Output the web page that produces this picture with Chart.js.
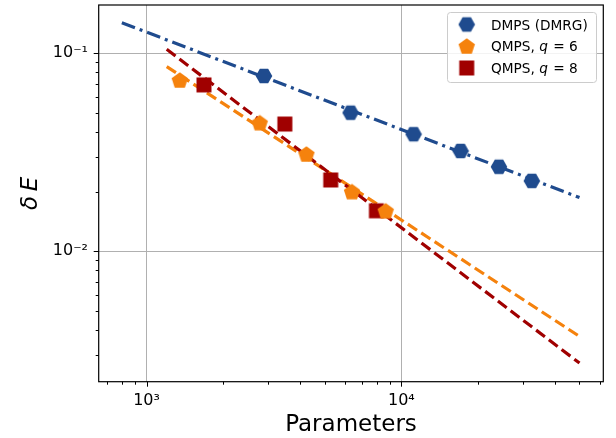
<!DOCTYPE html>
<html><head><meta charset="utf-8">
<script src="https://cdn.jsdelivr.net/npm/chart.js@4.4.0/dist/chart.umd.min.js"></script>
<style>html,body{margin:0;padding:0;background:#fff;}#wrap{width:616px;height:438px;position:relative;}</style>
</head><body><div id="wrap"><canvas id="c" width="616" height="438"></canvas></div>
<script>
// ---- data ----
const dmpsX = [2890, 6320, 11170, 17080, 24150, 32500];
const dmpsY = [0.0768, 0.0501, 0.0390, 0.0321, 0.0267, 0.02265];
const q6X = [1350, 2780, 4240, 6400, 8680];
const q6Y = [0.0733, 0.0446, 0.0310, 0.0200, 0.0160];
const q8X = [1680, 3490, 5280, 7980];
const q8Y = [0.0692, 0.0439, 0.0229, 0.0160];
const dmpsFitX = [800, 50000];
const dmpsFitY = [0.1427, 0.01866];
const q6FitX = [1200, 50000];
const q6FitY = [0.0856, 0.00371];
const q8FitX = [1200, 50000];
const q8FitY = [0.1047, 0.00272];
const seriesNames = ['DMPS (DMRG)', 'QMPS, ', 'QMPS, '];
const seriesQ = ['', '6', '8'];
const xMajorTicks = [1000, 10000];
const xTickLabels = ['10\u00B3', '10\u2074'];
const xMinorTicks = [700, 800, 900, 2000, 3000, 4000, 5000, 6000, 7000, 8000, 9000, 20000, 30000, 40000, 50000, 60000];
const yMajorTicks = [0.01, 0.1];
const yTickLabels = ['10\u207B\u00B2', '10\u207B\u00B9'];
const yMinorTicks = [0.003, 0.004, 0.005, 0.006, 0.007, 0.008, 0.009, 0.02, 0.03, 0.04, 0.05, 0.06, 0.07, 0.08, 0.09];
const xTitle = 'Parameters';
const yTitle = '\u03B4\u2009E';

const BLUE = '#1f4b8e', ORANGE = '#f5820d', RED = '#a00000';

function pts(xs, ys) { return xs.map((x, i) => ({x: x, y: ys[i]})); }
function near(a, b) { return Math.abs(a - b) / b < 1e-6; }
function majorIdx(list, v) { return list.findIndex(m => near(v, m)); }

function makeMarker(shape, color) {
  const s = 18, c = document.createElement('canvas');
  c.width = s; c.height = s;
  const g = c.getContext('2d');
  g.fillStyle = color; g.strokeStyle = color; g.lineWidth = 1;
  g.beginPath();
  const cx = s / 2, cy = s / 2;
  if (shape === 'hex') {
    const r = 8.3;
    for (let i = 0; i < 6; i++) { const a = i * Math.PI / 3; g.lineTo(cx + r * Math.cos(a), cy + r * Math.sin(a)); }
  } else if (shape === 'pent') {
    const r = 8.6;
    for (let i = 0; i < 5; i++) { const a = -Math.PI / 2 + i * 2 * Math.PI / 5; g.lineTo(cx + r * Math.cos(a), cy + 0.8 + r * Math.sin(a)); }
  } else {
    g.rect(cx - 7.5, cy - 7.5, 15, 15);
  }
  g.closePath(); g.fill();
  return c;
}
const mHex = makeMarker('hex', BLUE), mPent = makeMarker('pent', ORANGE), mSq = makeMarker('sq', RED);

const frameTicks = {
  id: 'frameTicks',
  afterDatasetsDraw(chart) {
    const ctx = chart.ctx, a = chart.chartArea, xs = chart.scales.x, ys = chart.scales.y;
    ctx.save();
    ctx.strokeStyle = '#000'; ctx.lineWidth = 1;
    xMinorTicks.concat(xMajorTicks).forEach(v => {
      const p = Math.round(xs.getPixelForValue(v)) + 0.5;
      const L = majorIdx(xMajorTicks, v) >= 0 ? 5 : 3;
      ctx.beginPath(); ctx.moveTo(p, a.bottom); ctx.lineTo(p, a.bottom + L); ctx.stroke();
    });
    yMinorTicks.concat(yMajorTicks).forEach(v => {
      const p = Math.round(ys.getPixelForValue(v)) + 0.5;
      const L = majorIdx(yMajorTicks, v) >= 0 ? 5 : 3;
      ctx.beginPath(); ctx.moveTo(a.left, p); ctx.lineTo(a.left - L, p); ctx.stroke();
    });
    ctx.lineWidth = 1.2;
    ctx.strokeRect(a.left, a.top, a.right - a.left, a.bottom - a.top);
    ctx.restore();
  },
  afterDraw(chart) {
    const ctx = chart.ctx;
    ctx.save();
    const bx = 447.5, by = 12.5, bw = 149, bh = 70, r = 3;
    ctx.beginPath();
    ctx.moveTo(bx + r, by); ctx.arcTo(bx + bw, by, bx + bw, by + bh, r); ctx.arcTo(bx + bw, by + bh, bx, by + bh, r);
    ctx.arcTo(bx, by + bh, bx, by, r); ctx.arcTo(bx, by, bx + bw, by, r); ctx.closePath();
    ctx.fillStyle = 'rgba(255,255,255,0.85)'; ctx.fill();
    ctx.strokeStyle = '#cccccc'; ctx.lineWidth = 1; ctx.stroke();
    const marks = [mHex, mPent, mSq];
    const base = [29.5, 51, 73];
    ctx.fillStyle = '#000'; ctx.textBaseline = 'alphabetic'; ctx.textAlign = 'left';
    for (let i = 0; i < 3; i++) {
      const cy = base[i] - 5;
      ctx.drawImage(marks[i], 466.7 - marks[i].width / 2, cy - marks[i].height / 2);
      let x = 491;
      ctx.font = '13.7px "DejaVu Sans"';
      ctx.fillText(seriesNames[i], x, base[i]);
      if (seriesQ[i]) {
        x += ctx.measureText(seriesNames[i]).width;
        ctx.font = 'italic 13.7px "DejaVu Sans"';
        ctx.fillText('q', x, base[i]);
        x += ctx.measureText('q').width;
        ctx.font = '13.7px "DejaVu Sans"';
        const rest = ' = ' + seriesQ[i];
        ctx.fillText(rest, x + 1, base[i]);
      }
    }
    ctx.restore();
  }
};

const lineDs = (xs, ys, color, dash, w) => ({
  data: pts(xs, ys), showLine: true, borderColor: color, borderWidth: w, borderDash: dash,
  borderCapStyle: 'butt', pointRadius: 0, pointHoverRadius: 0, fill: false, tension: 0
});
const markDs = (xs, ys, img) => ({
  data: pts(xs, ys), showLine: false, pointStyle: img, pointRadius: 8, pointHoverRadius: 8,
  backgroundColor: 'transparent', borderColor: 'transparent'
});

new Chart(document.getElementById('c'), {
  type: 'scatter',
  data: {
    datasets: [
      markDs(q6X, q6Y, mPent),
      markDs(q8X, q8Y, mSq),
      markDs(dmpsX, dmpsY, mHex),
      lineDs(q8FitX, q8FitY, RED, [11, 5], 3.2),
      lineDs(q6FitX, q6FitY, ORANGE, [11, 5], 3.2),
      lineDs(dmpsFitX, dmpsFitY, BLUE, [14, 5, 3, 5], 3.2)
    ]
  },
  options: {
    responsive: false, animation: false, devicePixelRatio: 1,
    layout: { autoPadding: false, padding: { left: 0, right: 12.7, top: 5, bottom: 0 } },
    plugins: { legend: { display: false }, tooltip: { enabled: false } },
    scales: {
      x: {
        type: 'logarithmic', position: 'bottom', min: 649, max: 62000,
        afterBuildTicks: s => { s.ticks = xMinorTicks.concat(xMajorTicks).sort((a, b) => a - b).map(v => ({value: v})); },
        afterFit: s => { s.height = 56.3; s.paddingLeft = 0; s.paddingRight = 0; },
        grid: { drawTicks: false, lineWidth: 1, color: c => (c.tick && majorIdx(xMajorTicks, c.tick.value) >= 0) ? '#b0b0b0' : 'rgba(0,0,0,0)' },
        border: { display: false },
        ticks: { autoSkip: false, maxRotation: 0, minRotation: 0, padding: 10, color: '#000',
          font: { family: '"DejaVu Sans"', size: 16 },
          callback: v => { const i = majorIdx(xMajorTicks, v); return i >= 0 ? xTickLabels[i] : ''; } },
        title: { display: true, text: xTitle, color: '#000', font: { family: '"DejaVu Sans"', size: 23, lineHeight: 1.1 }, padding: { top: 0, bottom: 0 } }
      },
      y: {
        type: 'logarithmic', position: 'left', min: 0.00219, max: 0.1754,
        afterBuildTicks: s => { s.ticks = yMinorTicks.concat(yMajorTicks).sort((a, b) => a - b).map(v => ({value: v})); },
        afterFit: s => { s.width = 98.7; s.paddingTop = 0; s.paddingBottom = 0; },
        grid: { drawTicks: false, lineWidth: 1, color: c => (c.tick && majorIdx(yMajorTicks, c.tick.value) >= 0) ? '#b0b0b0' : 'rgba(0,0,0,0)' },
        border: { display: false },
        ticks: { autoSkip: false, padding: 10.7, color: '#000',
          font: { family: '"DejaVu Sans"', size: 16 },
          callback: v => { const i = majorIdx(yMajorTicks, v); return i >= 0 ? yTickLabels[i] : ''; } },
        title: { display: true, text: yTitle, color: '#000', font: { family: '"DejaVu Sans"', size: 23, style: 'italic', lineHeight: 1.2 }, padding: { top: 17, bottom: 0 } }
      }
    }
  },
  plugins: [frameTicks]
});
</script></body></html>
